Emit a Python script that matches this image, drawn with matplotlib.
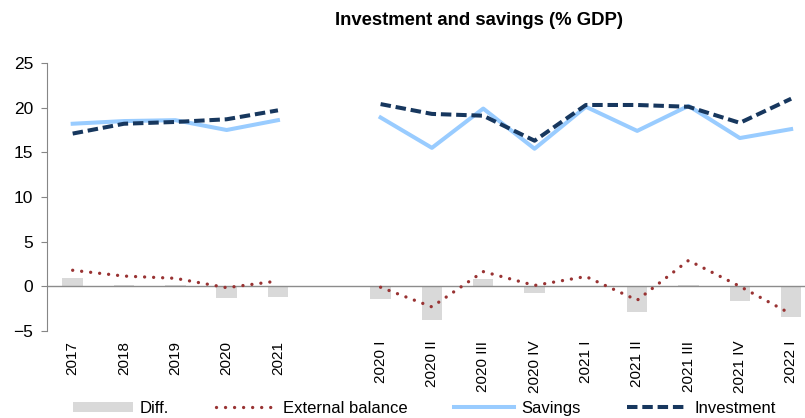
"""
Investment and savings (% GDP) - annual and quarterly.
"""
import matplotlib.pyplot as plt
import numpy as np

plt.rcParams['font.family'] = ['Liberation Sans', 'DejaVu Sans']

# categories (empty slot separates annual and quarterly data)
labels = ['2017', '2018', '2019', '2020', '2021', '',
          '2020 I', '2020 II', '2020 III', '2020 IV',
          '2021 I', '2021 II', '2021 III', '2021 IV', '2022 I']

savings = [18.2, 18.5, 18.6, 17.5, 18.6, np.nan,
           18.9, 15.5, 19.9, 15.4, 20.1, 17.4, 20.2, 16.6, 17.6]
investment = [17.1, 18.2, 18.4, 18.7, 19.7, np.nan,
              20.4, 19.3, 19.1, 16.3, 20.3, 20.3, 20.1, 18.3, 21.0]
diff = [0.9, 0.2, 0.1, -1.3, -1.2, np.nan,
        -1.4, -3.8, 0.85, -0.8, -0.1, -2.85, 0.1, -1.6, -3.4]
external = [1.8, 1.15, 0.9, -0.15, 0.6, np.nan,
            -0.1, -2.3, 1.65, 0.1, 1.1, -1.55, 2.9, 0.0, -3.1]

fig = plt.figure(figsize=(8.05, 4.18), dpi=100)
ax = fig.add_axes([0.0584, 0.2081, 0.9416, 0.6412])

x = np.arange(len(labels))

h_diff = ax.bar(x, diff, width=0.4, color='#d9d9d9', label='Diff.', zorder=1)
ax.axhline(0, color='#8c8c8c', lw=1.0, zorder=2)
h_ext, = ax.plot(x, external, color='#993333', lw=2.4,
                 linestyle=(0, (0.01, 2.7)), dash_capstyle='round',
                 label='External balance', zorder=3)
h_sav, = ax.plot(x, savings, color='#99ccff', lw=2.9, label='Savings', zorder=4)
h_inv, = ax.plot(x, investment, color='#17375e', lw=2.9,
                 linestyle=(0, (2.6, 1.2)), label='Investment', zorder=5)

ax.set_xlim(-0.5, 14.27)
ax.set_ylim(-5, 25)
ax.set_yticks([-5, 0, 5, 10, 15, 20, 25])
ax.set_xticks(x)
ax.set_xticklabels(labels, rotation=90, fontsize=11)
ax.tick_params(axis='x', length=0, pad=7)
ax.tick_params(axis='y', labelsize=12.5, length=4, color='#868686', pad=6)

for s in ['top', 'right', 'bottom']:
    ax.spines[s].set_visible(False)
ax.spines['left'].set_color('#868686')

fig.text(0.595, 0.952, 'Investment and savings (% GDP)',
         ha='center', va='center', fontsize=13.3, fontweight='bold')

fig.legend([h_diff, h_ext, h_sav, h_inv],
           ['Diff.', 'External balance', 'Savings', 'Investment'],
           loc='lower left', bbox_to_anchor=(0.072, -0.03), ncol=4,
           frameon=False, fontsize=12, handlelength=3.6,
           handletextpad=0.42, columnspacing=2.8, handleheight=0.55)

plt.savefig('out.png', dpi=100)
